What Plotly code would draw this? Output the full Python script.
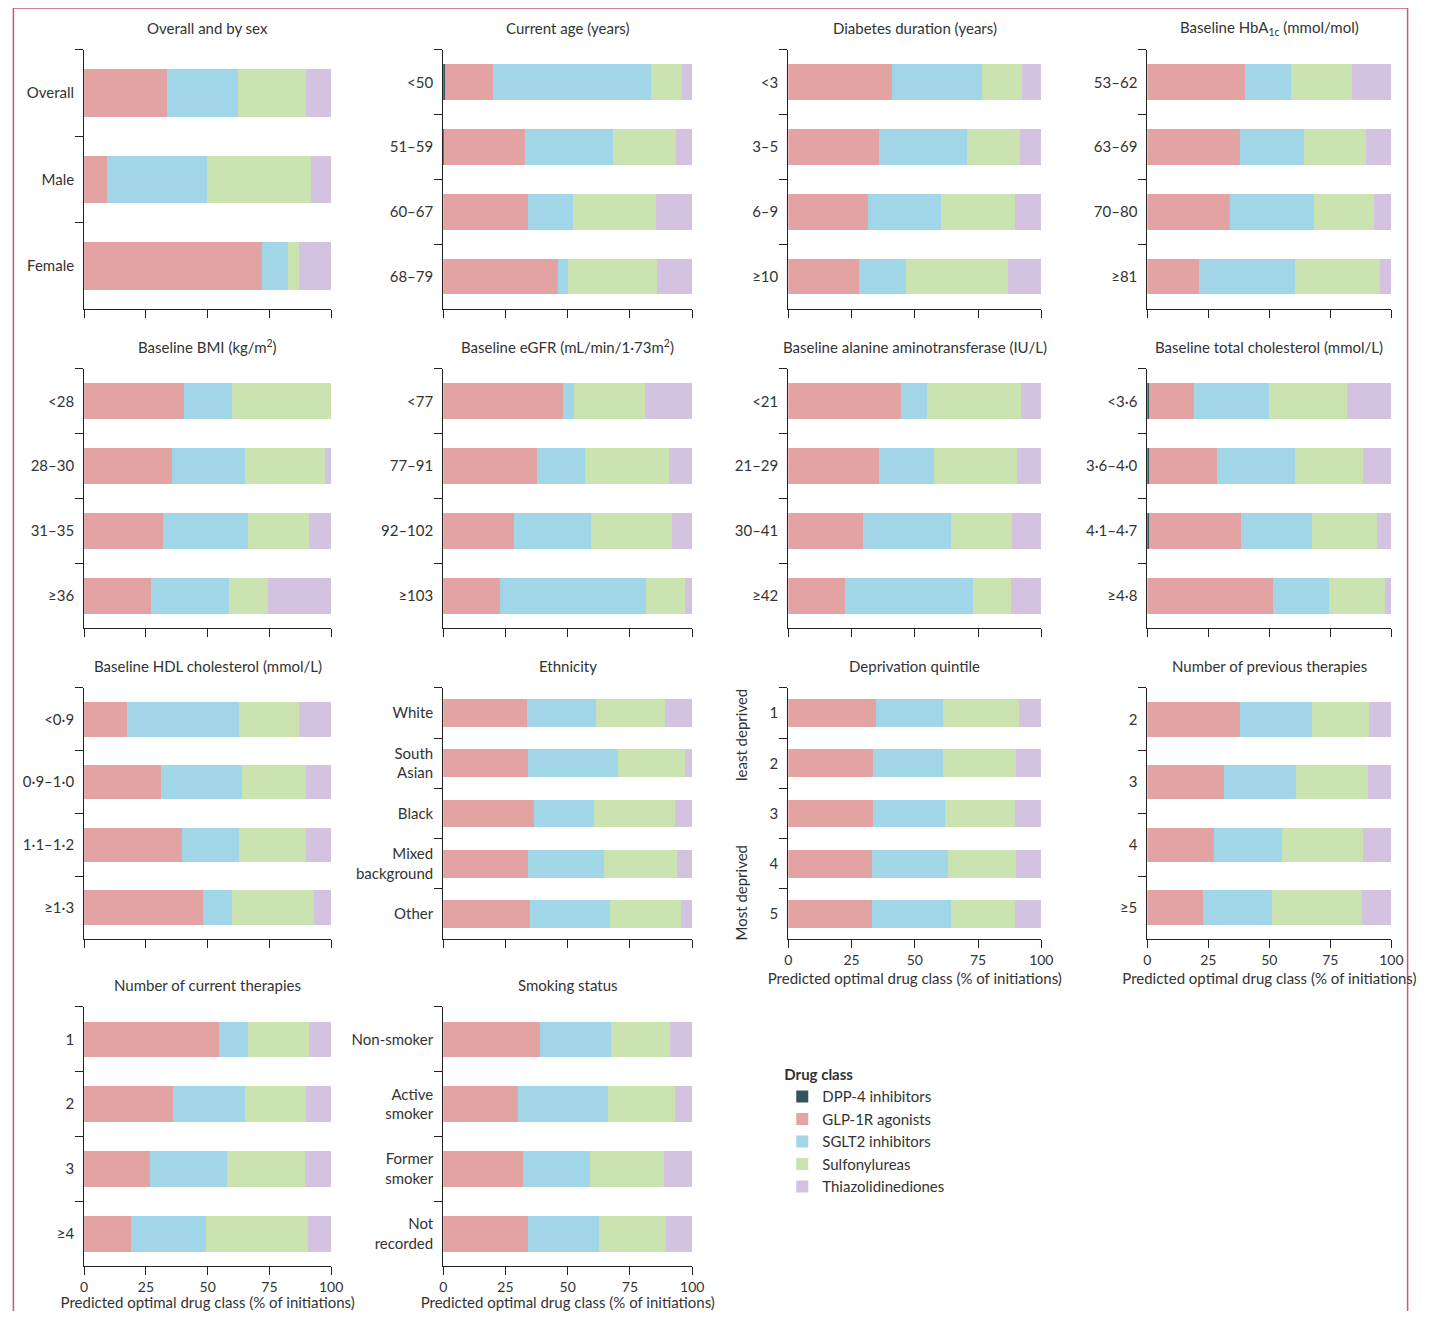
import plotly.graph_objects as go

W, H = 1429, 1323
OFF = 8            # page body margin
FW, FH = W - 2 * OFF, H - 2 * OFF - 4

classes = ["DPP-4 inhibitors", "GLP-1R agonists", "SGLT2 inhibitors", "Sulfonylureas", "Thiazolidinediones"]
colors = ["#36545e", "#e3a3a2", "#a1d6e8", "#cae3b1", "#d3c3e0"]

# each panel: title, categories, [dpp4, glp1, sglt2, su, tzd] per category
sex_cats = ["Overall", "Male", "Female"]
sex_vals = [[0, 33.6, 28.7, 27.5, 10.2], [0, 9.3, 40.5, 42, 8.2], [0, 72, 10.5, 4.5, 13]]

age_cats = ["<50", "51–59", "60–67", "68–79"]
age_vals = [[0.6, 19.4, 63.5, 12.5, 4], [0.5, 32.3, 35.5, 25, 6.7], [0, 34, 18, 33.5, 14.5], [0, 46, 4, 36, 14]]

dur_cats = ["<3", "3–5", "6–9", "≥10"]
dur_vals = [[0, 41, 35.5, 16, 7.5], [0, 36, 34.5, 21, 8.5], [0, 31.5, 29, 29, 10.5], [0, 28, 18.5, 40.5, 13]]

hba_cats = ["53–62", "63–69", "70–80", "≥81"]
hba_vals = [[0, 40, 19, 25, 16], [0, 38, 26, 25.5, 10.5], [0, 34, 34.5, 24.5, 7], [0, 21, 39.5, 35, 4.5]]

bmi_cats = ["<28", "28–30", "31–35", "≥36"]
bmi_vals = [[0, 40.5, 19.5, 40, 0], [0, 35.5, 29.5, 32.5, 2.5], [0, 32, 34.5, 24.5, 9], [0, 27, 31.5, 16, 25.5]]

egfr_cats = ["<77", "77–91", "92–102", "≥103"]
egfr_vals = [[0, 48, 4.5, 28.5, 19], [0, 37.5, 19.5, 33.5, 9.5], [0, 28.5, 31, 32.5, 8], [0, 23, 58.5, 15.5, 3]]

alt_cats = ["<21", "21–29", "30–41", "≥42"]
alt_vals = [[0, 44.5, 10.5, 37, 8], [0, 36, 21.5, 33, 9.5], [0, 29.5, 35, 24, 11.5], [0, 22.5, 50.5, 15, 12]]

chol_cats = ["<3·6", "3·6–4·0", "4·1–4·7", "≥4·8"]
chol_vals = [[0.5, 18.5, 31, 32, 18], [0.5, 28, 32, 28, 11.5], [0.5, 38, 29, 26.5, 6], [0, 51.5, 23, 23, 2.5]]

hdl_cats = ["<0·9", "0·9–1·0", "1·1–1·2", "≥1·3"]
hdl_vals = [[0, 17.5, 45, 24.5, 13], [0, 31, 33, 26, 10], [0, 39.5, 23, 27.5, 10], [0, 48, 12, 33, 7]]

eth_cats = ["White", "South<br>Asian", "Black", "Mixed<br>background", "Other"]
eth_vals = [[0, 33.5, 28, 27.5, 11], [0, 34, 36, 27, 3], [0, 36.5, 24, 32.5, 7], [0, 34, 30.5, 29.5, 6], [0, 35, 32, 28.5, 4.5]]

dep_cats = ["1", "2", "3", "4", "5"]
dep_vals = [[0, 34.5, 26.5, 30, 9], [0, 33.5, 27.5, 29, 10], [0, 33.5, 28.5, 27.5, 10.5], [0, 33, 30, 27, 10], [0, 33, 31.5, 25, 10.5]]

prev_cats = ["2", "3", "4", "≥5"]
prev_vals = [[0, 38, 29.5, 23.5, 9], [0, 31.5, 29.5, 29.5, 9.5], [0, 27.5, 27.5, 33.5, 11.5], [0, 23, 28, 37, 12]]

cur_cats = ["1", "2", "3", "≥4"]
cur_vals = [[0, 54.5, 12, 24.5, 9], [0, 36, 29, 25, 10], [0, 26.5, 31.5, 31.5, 10.5], [0, 19, 30.5, 41, 9.5]]

smk_cats = ["Non-smoker", "Active<br>smoker", "Former<br>smoker", "Not<br>recorded"]
smk_vals = [[0, 39, 28.5, 23.5, 9], [0, 30, 36, 27, 7], [0, 32, 27, 29.5, 11.5], [0, 34, 28.5, 27, 10.5]]

panels = [
    ("Overall and by sex", sex_cats, sex_vals),
    ("Current age (years)", age_cats, age_vals),
    ("Diabetes duration (years)", dur_cats, dur_vals),
    ("Baseline HbA<sub>1c</sub> (mmol/mol)", hba_cats, hba_vals),
    ("Baseline BMI (kg/m<sup>2</sup>)", bmi_cats, bmi_vals),
    ("Baseline eGFR (mL/min/1·73m<sup>2</sup>)", egfr_cats, egfr_vals),
    ("Baseline alanine aminotransferase (IU/L)", alt_cats, alt_vals),
    ("Baseline total cholesterol (mmol/L)", chol_cats, chol_vals),
    ("Baseline HDL cholesterol (mmol/L)", hdl_cats, hdl_vals),
    ("Ethnicity", eth_cats, eth_vals),
    ("Deprivation quintile", dep_cats, dep_vals),
    ("Number of previous therapies", prev_cats, prev_vals),
    ("Number of current therapies", cur_cats, cur_vals),
    ("Smoking status", smk_cats, smk_vals),
]

# pixel layout of plot areas (screen pixels)
col_x = [(84, 331), (443, 692), (788, 1041), (1147, 1391)]
row_y = [(50, 310), (370, 630), (690, 942), (1010, 1270)]
bottom_panels = {10, 11, 12, 13}


def px(x):
    # the page comes out slightly squeezed horizontally; compensate
    x = 84 + (x - 87) / 0.9885
    return max(0.001, min(1.0, (x - OFF) / FW))


def py(y):
    return 1 - (y - OFF) / FH


FONT = "Lato"
TXT = "#333333"
fig = go.Figure()

for i, (title, cats, vals) in enumerate(panels):
    r, c = divmod(i, 4)
    n = "" if i == 0 else str(i + 1)
    xa, ya = "x" + n, "y" + n
    for k in range(5):
        fig.add_trace(go.Bar(
            y=cats, x=[v[k] for v in vals], orientation="h",
            name=classes[k], marker=dict(color=colors[k], line=dict(width=0)),
            xaxis=xa, yaxis=ya, showlegend=(i == 0), legendgroup=classes[k],
        ))
    x0, x1 = col_x[c]
    y0, y1 = row_y[r]
    fig.update_layout({
        "xaxis" + n: dict(
            domain=[px(x0), px(x1)], anchor=ya, range=[0, 100],
            tickvals=[0, 25, 50, 75, 100], showticklabels=(i in bottom_panels),
            ticks="outside", ticklen=8, tickcolor="#222", showline=True,
            linecolor="#222", showgrid=False, zeroline=False,
            tickfont=dict(size=14, color=TXT, family=FONT),
            title=dict(text="Predicted optimal drug class (% of initiations)" if i in bottom_panels else "",
                       font=dict(size=15, color=TXT, family=FONT), standoff=6),
        ),
        "yaxis" + n: dict(
            domain=[py(y1), py(y0)], anchor=xa, autorange="reversed",
            type="category", tickson="boundaries", ticks="outside", ticklen=8,
            tickcolor="#222", showline=True, linecolor="#222", showgrid=False,
            ticklabelstandoff=6,
            tickfont=dict(size=15, color=TXT, family=FONT),
        ),
    })
    fig.add_annotation(text=title, x=px((x0 + x1) / 2), y=py(y0 - 22),
                       xref="paper", yref="paper", showarrow=False,
                       xanchor="center", yanchor="middle",
                       font=dict(size=15, color=TXT, family=FONT))

# deprivation side labels
for txt, yc in [("least deprived", 737), ("Most deprived", 895)]:
    fig.add_annotation(text=txt, x=px(741), y=py(yc), xref="paper", yref="paper",
                       showarrow=False, textangle=-90, xanchor="center", yanchor="middle",
                       font=dict(size=15, color=TXT, family=FONT))

# frame
fig.add_shape(type="rect", xref="paper", yref="paper", x0=0.001, x1=0.999,
              y0=py(1330), y1=py(8), line=dict(color="#c45a75", width=1.5))

fig.update_layout(
    width=FW, height=FH, margin=dict(l=0, r=0, t=0, b=0),
    paper_bgcolor="white", plot_bgcolor="white", barmode="stack", bargap=0.45,
    font=dict(family=FONT, color=TXT),
    legend=dict(x=px(782), y=py(1064), xanchor="left", yanchor="top",
                title=dict(text="<b>Drug class</b>", font=dict(size=15, color=TXT)),
                font=dict(size=15, color=TXT), tracegroupgap=0, itemwidth=30,
                bgcolor="rgba(0,0,0,0)"),
)

fig.write_html("out.html")
